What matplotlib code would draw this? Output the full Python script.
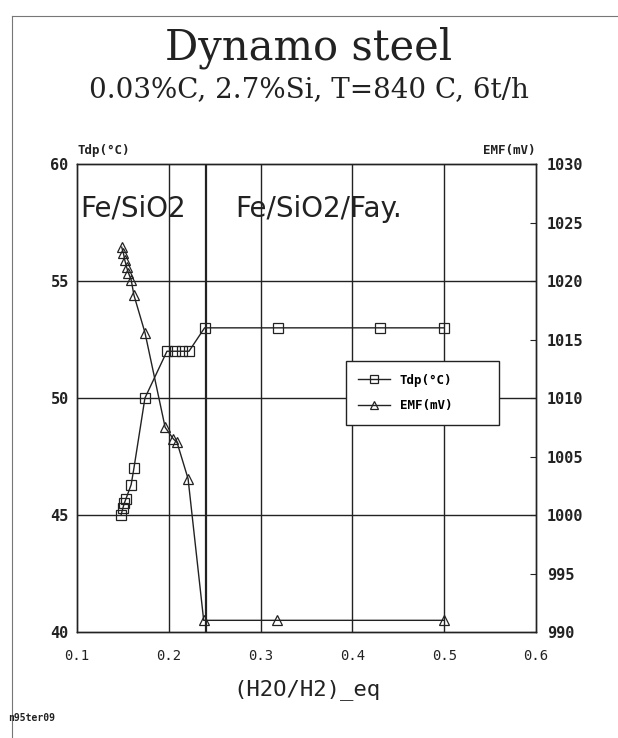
import matplotlib.pyplot as plt
from matplotlib.lines import Line2D

# dew point temperature (left axis)
tdp_x = [0.148, 0.150, 0.1515, 0.1534, 0.159, 0.162, 0.174, 0.198, 0.207, 0.214, 0.222,
         0.239, 0.319, 0.430, 0.500]
tdp_y = [45.0, 45.3, 45.5, 45.7, 46.3, 47.0, 50.0, 52.0, 52.0, 52.0, 52.0,
         53.0, 53.0, 53.0, 53.0]

# EMF (right axis)
emf_x = [0.1487, 0.1505, 0.152, 0.154, 0.156, 0.159, 0.162, 0.174, 0.196, 0.205, 0.209,
         0.221, 0.238, 0.318, 0.500]
emf_y = [1022.9, 1022.4, 1021.8, 1021.2, 1020.7, 1020.1, 1018.8, 1015.6, 1007.5, 1006.5, 1006.2,
         1003.1, 991.0, 991.0, 991.0]

xticks = [0.1, 0.2, 0.3, 0.4, 0.5, 0.6]
vgrid = [0.2, 0.24, 0.3, 0.4, 0.5]
hgrid = [45, 50, 55]

mono = "DejaVu Sans Mono"
ink = "#222222"

fig = plt.figure(figsize=(6.18, 7.38), dpi=100)
ax = fig.add_axes([0.1246, 0.1436, 0.7427, 0.6341])
ax2 = ax.twinx()

ax.set_xlim(0.1, 0.6)
ax.set_ylim(40, 60)
ax2.set_ylim(990, 1030)

for x in vgrid:
    ax.axvline(x, color=ink, lw=1.6 if x == 0.24 else 1.0, zorder=1)
for y in hgrid:
    ax.axhline(y, color=ink, lw=1.0, zorder=1)

ax.plot(tdp_x, tdp_y, color=ink, lw=1.0, marker="s", ms=7, mfc="none", mec=ink, mew=0.9, zorder=3)
ax2.plot(emf_x, emf_y, color=ink, lw=1.0, marker="^", ms=7.5, mfc="none", mec=ink, mew=0.9, zorder=3)

ax.set_xticks(xticks)
ax.set_xticklabels([f"{t:.1f}" for t in xticks], family=mono, fontsize=10, color=ink)
ax.set_yticks([40, 45, 50, 55, 60])
ax.set_yticklabels(["40", "45", "50", "55", "60"], family=mono, fontsize=11, fontweight="bold", color=ink)
ax.tick_params(axis="x", length=0, pad=12)
ax.tick_params(axis="y", length=0, pad=6)
ax2.set_yticks([990, 995, 1000, 1005, 1010, 1015, 1020, 1025, 1030])
ax2.set_yticklabels([str(v) for v in range(990, 1031, 5)], family=mono, fontsize=11, fontweight="bold", color=ink)
ax2.tick_params(axis="y", direction="in", length=4, pad=8, color=ink)

for a in (ax, ax2):
    for s in a.spines.values():
        s.set_color(ink)
        s.set_linewidth(1.0)

ax.set_xlabel("(H2O/H2)_eq", family=mono, fontsize=16, color=ink, labelpad=12)
ax.text(0.0, 1.015, "Tdp(°C)", transform=ax.transAxes, family=mono, fontsize=9,
        fontweight="bold", color=ink, ha="left", va="bottom")
ax.text(1.0, 1.015, "EMF(mV)", transform=ax.transAxes, family=mono, fontsize=9,
        fontweight="bold", color=ink, ha="right", va="bottom")

ax.text(0.104, 58.1, "Fe/SiO2", fontsize=20, color=ink, ha="left", va="center")
ax.text(0.272, 58.1, "Fe/SiO2/Fay.", fontsize=20, color=ink, ha="left", va="center")

handles = [
    Line2D([], [], color=ink, lw=1.0, marker="s", ms=6, mfc="none", mec=ink, mew=0.9),
    Line2D([], [], color=ink, lw=1.0, marker="^", ms=6, mfc="none", mec=ink, mew=0.9),
]
leg = ax2.legend(handles, ["Tdp(°C)", "EMF(mV)"], loc="lower left",
                 bbox_to_anchor=(0.572, 0.43, 0.362, 0.145), mode="expand",
                 prop={"family": mono, "size": 9, "weight": "bold"},
                 frameon=True, fancybox=False, edgecolor=ink, framealpha=1,
                 handlelength=2.5, borderpad=1.0, labelspacing=1.0)
leg.get_frame().set_linewidth(1.0)

fig.text(0.5, 0.935, "Dynamo steel", family="DejaVu Serif", fontsize=30, color=ink,
         ha="center", va="center")
fig.text(0.5, 0.878, "0.03%C, 2.7%Si, T=840 C, 6t/h", family="DejaVu Serif", fontsize=20,
         color=ink, ha="center", va="center")
fig.text(0.013, 0.027, "n95ter09", family=mono, fontsize=7, fontweight="bold", color=ink,
         ha="left", va="center")

# page border (top and left)
fig.add_artist(Line2D([0.019, 1.0], [0.978, 0.978], color="#777777", lw=0.8, transform=fig.transFigure))
fig.add_artist(Line2D([0.019, 0.019], [0.0, 0.978], color="#777777", lw=0.8, transform=fig.transFigure))

fig.savefig("out.png", dpi=100, facecolor="white")
